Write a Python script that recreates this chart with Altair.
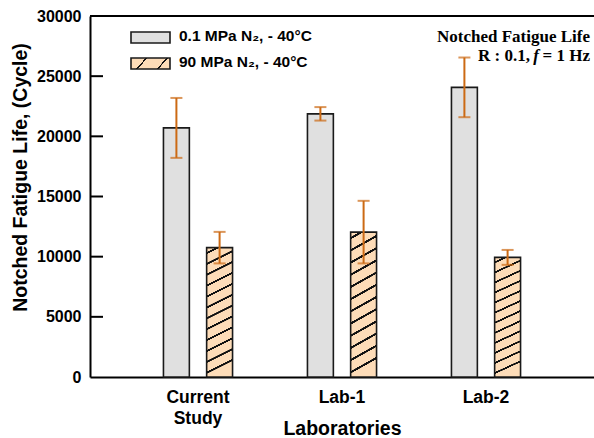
import altair as alt
import pandas as pd

# ---------------- data ----------------
labs = ["Current\nStudy", "Lab-1", "Lab-2"]
series = ["0.1 MPa N₂, - 40°C", "90 MPa N₂, - 40°C"]
life_01 = [20700, 21870, 24070]
err_01 = [2490, 560, 2480]
life_90 = [10750, 12040, 9940]
err_90 = [1310, 2600, 620]
y_ticks = [0, 5000, 10000, 15000, 20000, 25000, 30000]
y_title = "Notched Fatigue Life, (Cycle)"
x_title = "Laboratories"
note1 = "Notched Fatigue Life"
note2a = "R : 0.1,"
note2b = "f"
note2c = "= 1 Hz"

rows = []
for lab, v, e in zip(labs, life_01, err_01):
    rows.append({"lab": lab, "series": series[0], "life": v, "lo": v - e, "hi": v + e})
for lab, v, e in zip(labs, life_90, err_90):
    rows.append({"lab": lab, "series": series[1], "life": v, "lo": v - e, "hi": v + e})
df = pd.DataFrame(rows)

# ---------------- style ----------------
W, H = 504, 361
GRAY = "#E0E0E0"
PEACH = "#FDDCB8"
INK = "#111111"
ORANGE = "#CC6A14"
SANS = "Liberation Sans"
SERIF = "Liberation Serif"


def hatch(n, x2, y2, half=0.007, phase=0.5):
    stops = [alt.GradientStop(offset=0, color=PEACH)]
    for k in range(n):
        c = (k + phase) / n
        stops += [
            alt.GradientStop(offset=c - half - 0.002, color=PEACH),
            alt.GradientStop(offset=c - half, color=INK),
            alt.GradientStop(offset=c + half, color=INK),
            alt.GradientStop(offset=c + half + 0.002, color=PEACH),
        ]
    stops.append(alt.GradientStop(offset=1, color=PEACH))
    return alt.LinearGradient(gradient="linear", stops=stops, x1=0, y1=0, x2=x2, y2=y2)


yscale = alt.Scale(domain=[0, 30000], nice=False)
yaxis = alt.Axis(
    values=y_ticks, format="d", grid=False, ticks=False, domainColor="black",
    domainWidth=2, labelFont=SANS, labelFontWeight="bold", labelFontSize=16,
    labelColor="black", labelPadding=9, titleFont=SANS, titleFontWeight="bold",
    titleFontSize=19.5, titleColor="black", titleX=-70, titleY=161,
    titleAlign="center", titleBaseline="middle", titleAngle=270,
)


def Y(field):
    return alt.Y(field, scale=yscale, axis=yaxis, title=y_title)


xenc = alt.X(
    "lab:N", sort=labs, title=x_title,
    scale=alt.Scale(paddingInner=0, paddingOuter=0.25),
    axis=alt.Axis(
        labelAngle=0, ticks=False, domainColor="black", domainWidth=2,
        labelFont=SANS, labelFontWeight="bold", labelFontSize=17.5, labelColor="black",
        labelPadding=11, labelBaseline="top", labelLineHeight=21,
        labelExpr="split(datum.label, '\\n')",
        titleFont=SANS, titleFontWeight="bold", titleFontSize=19.5, titleColor="black",
        titleY=51, titleBaseline="middle",
    ),
)
xoff = alt.XOffset("series:N", sort=series,
                   scale=alt.Scale(paddingInner=0.4, paddingOuter=0.867))

base = alt.Chart(df).encode(x=xenc, xOffset=xoff)

bars_gray = base.transform_filter(alt.datum.series == series[0]).mark_bar(
    fill=GRAY, stroke="#1a1a1a", strokeWidth=1.6
).encode(y=Y("life:Q"))

bars_hatch = base.transform_filter(alt.datum.series == series[1]).mark_bar(
    fill=hatch(12, 0.1, 1.0), stroke="#1a1a1a", strokeWidth=1.6
).encode(y=Y("life:Q"))

err = base.mark_rule(color=ORANGE, strokeWidth=2).encode(y=Y("lo:Q"), y2="hi:Q")
cap_hi = base.mark_tick(orient="horizontal", size=12, thickness=2, color=ORANGE).encode(y=Y("hi:Q"))
cap_lo = base.mark_tick(orient="horizontal", size=12, thickness=2, color=ORANGE).encode(y=Y("lo:Q"))

top_line = alt.Chart(pd.DataFrame({"v": [y_ticks[-1]]})).mark_rule(
    color="black", strokeWidth=2
).encode(y=Y("v:Q"), x=alt.value(0), x2=alt.value(W))

in_ticks = alt.Chart(pd.DataFrame({"v": y_ticks[1:-1]})).mark_rule(
    color="black", strokeWidth=2
).encode(y=Y("v:Q"), x=alt.value(0), x2=alt.value(13))

# ---------------- legend ----------------
leg_df = pd.DataFrame({"label": series})
sw1 = alt.Chart(leg_df.iloc[[0]]).mark_rect(fill=GRAY, stroke="#1a1a1a", strokeWidth=1.6).encode(
    x=alt.value(41), x2=alt.value(80), y=alt.value(16), y2=alt.value(27))
sw2 = alt.Chart(leg_df.iloc[[1]]).mark_rect(
    fill=hatch(2, 1.0, 0.25, half=0.02, phase=0.75), stroke="#1a1a1a", strokeWidth=1.6
).encode(x=alt.value(41), x2=alt.value(80), y=alt.value(42), y2=alt.value(53))
lt1 = alt.Chart(leg_df.iloc[[0]]).mark_text(
    align="left", baseline="alphabetic", font=SANS, fontWeight="bold", fontSize=15.5, color="black"
).encode(x=alt.value(89), y=alt.value(25), text="label:N")
lt2 = alt.Chart(leg_df.iloc[[1]]).mark_text(
    align="left", baseline="alphabetic", font=SANS, fontWeight="bold", fontSize=15.5, color="black"
).encode(x=alt.value(89), y=alt.value(51), text="label:N")

# ---------------- annotation ----------------
note_df = pd.DataFrame({"a": [note1], "b": [note2a], "c": [note2b], "d": [note2c]})
n1 = alt.Chart(note_df).mark_text(
    align="right", baseline="alphabetic", font=SERIF, fontWeight="bold", fontSize=17, color="black"
).encode(x=alt.value(500), y=alt.value(26), text="a:N")
n2 = alt.Chart(note_df).mark_text(
    align="right", baseline="alphabetic", font=SERIF, fontWeight="bold", fontSize=17, color="black"
).encode(x=alt.value(440), y=alt.value(45), text="b:N")
n3 = alt.Chart(note_df).mark_text(
    align="right", baseline="alphabetic", font=SERIF, fontWeight="bold", fontStyle="italic",
    fontSize=17, color="black"
).encode(x=alt.value(449), y=alt.value(45), text="c:N")
n4 = alt.Chart(note_df).mark_text(
    align="right", baseline="alphabetic", font=SERIF, fontWeight="bold", fontSize=17, color="black"
).encode(x=alt.value(500), y=alt.value(45), text="d:N")

chart = alt.layer(
    bars_gray, bars_hatch, err, cap_hi, cap_lo, top_line, in_ticks,
    sw1, sw2, lt1, lt2, n1, n2, n3, n4,
).properties(
    width=W, height=H,
    padding={"left": 90, "top": 16, "right": 0, "bottom": 61},
    autosize=alt.AutoSizeParams(type="none"),
    background="white",
).configure_view(stroke=None)

chart.save("out.html", embed_options={"renderer": "svg", "actions": False})
